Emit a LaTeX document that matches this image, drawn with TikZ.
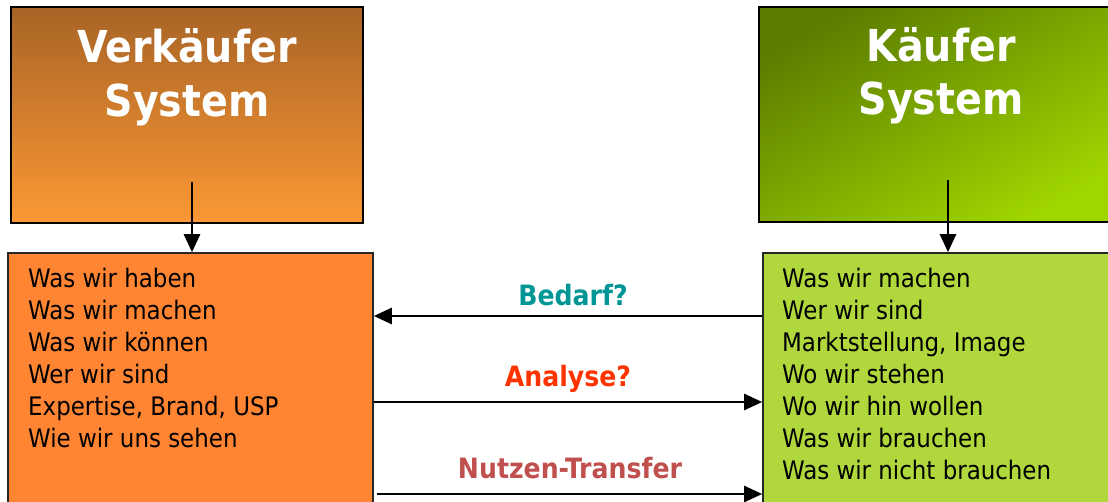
\documentclass[tikz,border=0pt]{standalone}
\usepackage{fontspec}
\setmainfont{DejaVu Sans Condensed}
\usetikzlibrary{arrows.meta,calc}
\definecolor{vtop}{RGB}{168,100,38}
\definecolor{vbot}{RGB}{252,152,52}
\definecolor{kdark}{RGB}{92,126,0}
\definecolor{kbright}{RGB}{160,214,0}
\definecolor{vfill}{RGB}{255,133,51}
\definecolor{kfill}{RGB}{176,216,60}
\definecolor{cbedarf}{RGB}{0,150,150}
\definecolor{canalyse}{RGB}{255,51,0}
\definecolor{cnutzen}{RGB}{192,80,77}
\tikzset{
  topbox/.style={draw=black, line width=2pt, inner sep=0pt, rectangle},
  listbox/.style={draw=black!85, line width=1.6pt, inner sep=0pt, rectangle},
  titletext/.style={text=white, font=\fontsize{44}{54}\selectfont\bfseries, inner sep=0pt, anchor=base},
  listtext/.style={text=black, font=\fontsize{25.5}{32}\selectfont, inner sep=0pt, anchor=base west},
  lbl/.style={font=\fontsize{28}{32}\selectfont\bfseries, inner sep=0pt, anchor=base},
  conn/.style={line width=2.6pt, -{Triangle[length=18pt,width=16pt]}}
}
\begin{document}
\begin{tikzpicture}[x=1pt,y=-1pt]
\useasboundingbox (0,0) rectangle (1108,502);
\clip (0,0) rectangle (1108,502);
% top boxes
\node[topbox, minimum width=352pt, minimum height=216pt, top color=vtop, bottom color=vbot] (vk) at (187,115) {};
\node[topbox, minimum width=366pt, minimum height=215pt, top color=kdark, bottom color=kbright, shading angle=30] (kk) at (942,114.5) {};
% titles
\node[titletext] (vkt) at (187,63) {\vtop{\baselineskip=54pt\halign{\hfil#\hfil\cr Verkäufer\cr System\cr}}};
\node[titletext] (kkt) at (941,62) {\vtop{\baselineskip=53pt\halign{\hfil#\hfil\cr Käufer\cr System\cr}}};
% list boxes
\node[listbox, minimum width=365pt, minimum height=277pt, fill=vfill] (vl) at (190.5,391.5) {};
\node[listbox, minimum width=362pt, minimum height=277pt, fill=kfill] (kl) at (944,391.5) {};
% list texts
\node[listtext] (vlt) at (28,288) {\vtop{\baselineskip=32pt
  \hbox{Was wir haben}\hbox{Was wir machen}\hbox{Was wir können}\hbox{Wer wir sind}\hbox{Expertise, Brand, USP}\hbox{Wie wir uns sehen}}};
\node[listtext] (klt) at (782,288) {\vtop{\baselineskip=32pt
  \hbox{Was wir machen}\hbox{Wer wir sind}\hbox{Marktstellung, Image}\hbox{Wo wir stehen}\hbox{Wo wir hin wollen}\hbox{Was wir brauchen}\hbox{Was wir nicht brauchen}}};
% vertical connectors
\coordinate (va) at (192,182);
\coordinate (ka) at (948,180);
\draw[conn] (va) -- (va |- vl.north);
\draw[conn] (ka) -- (ka |- kl.north);
% horizontal connectors
\coordinate (yb) at (0,316);
\coordinate (ya) at (0,402);
\coordinate (yn) at (0,494);
\draw[conn] (kl.west |- yb) -- (vl.east |- yb);
\draw[conn] (vl.east |- ya) -- (kl.west |- ya);
\draw[conn] ($(vl.east |- yn)+(3,0)$) -- (kl.west |- yn);
% labels
\node[lbl, text=cbedarf] (lb) at (573,306) {Bedarf?};
\node[lbl, text=canalyse] (la) at (568,386) {Analyse?};
\node[lbl, text=cnutzen] (ln) at (570,478) {Nutzen-Transfer};
\end{tikzpicture}
\end{document}
